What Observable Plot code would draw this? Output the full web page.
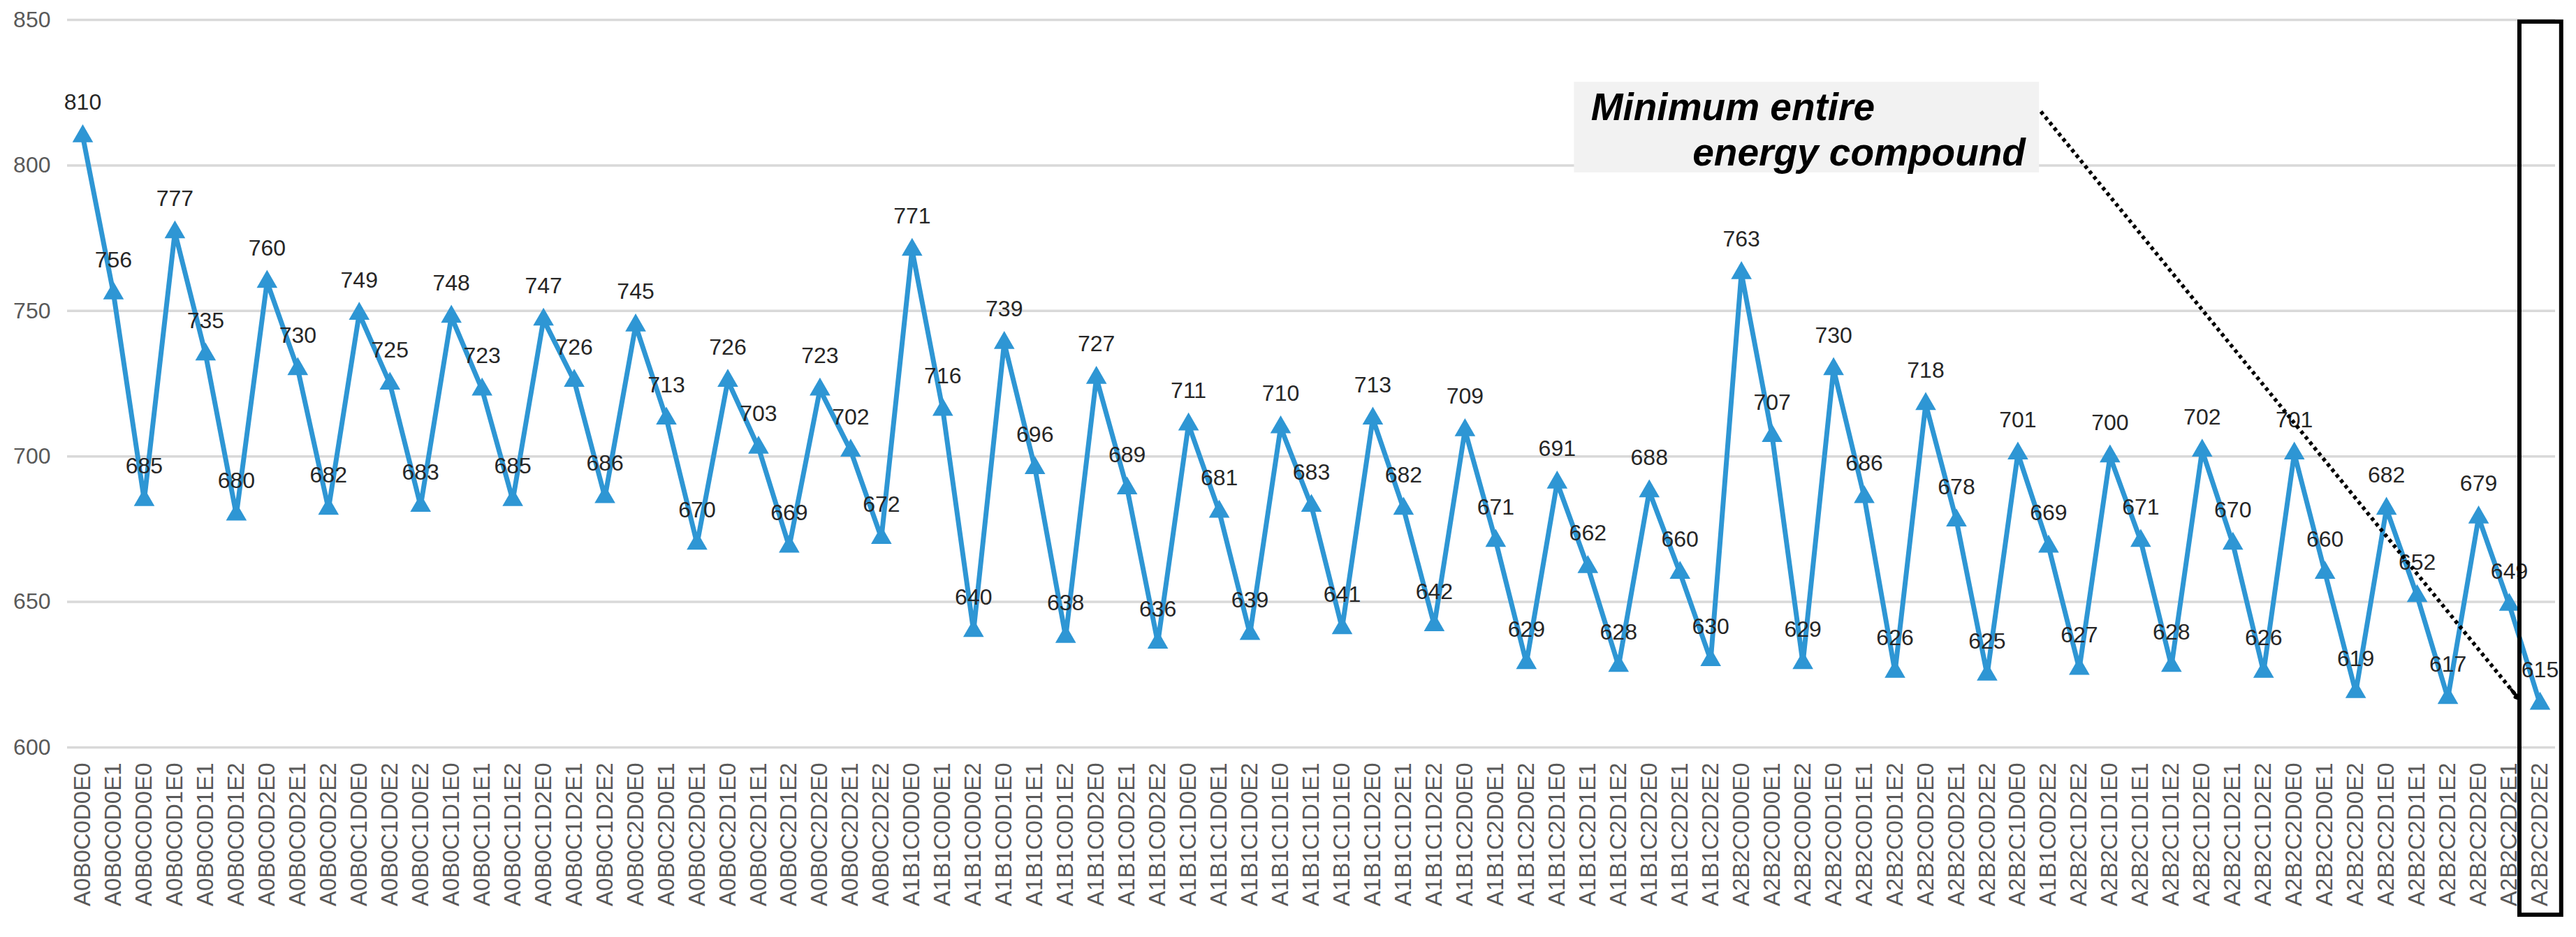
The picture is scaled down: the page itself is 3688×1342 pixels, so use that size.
<!DOCTYPE html>
<html>
<head>
<meta charset="utf-8">
<script src="https://cdn.jsdelivr.net/npm/d3@7"></script>
<script src="https://cdn.jsdelivr.net/npm/@observablehq/plot@0.6"></script>
<style>
  html, body { margin: 0; padding: 0; background: #ffffff; }
  #chart svg { display: block; }
</style>
</head>
<body>
<div id="chart"></div>
<script>
// Category labels as printed on the x axis (including the original's repeated labels)
const categories = [
  "A0B0C0D0E0","A0B0C0D0E1","A0B0C0D0E0","A0B0C0D1E0","A0B0C0D1E1","A0B0C0D1E2","A0B0C0D2E0","A0B0C0D2E1","A0B0C0D2E2",
  "A0B0C1D0E0","A0B0C1D0E2","A0B0C1D0E2","A0B0C1D1E0","A0B0C1D1E1","A0B0C1D1E2","A0B0C1D2E0","A0B0C1D2E1","A0B0C1D2E2",
  "A0B0C2D0E0","A0B0C2D0E1","A0B0C2D0E1","A0B0C2D1E0","A0B0C2D1E1","A0B0C2D1E2","A0B0C2D2E0","A0B0C2D2E1","A0B0C2D2E2",
  "A1B1C0D0E0","A1B1C0D0E1","A1B1C0D0E2","A1B1C0D1E0","A1B1C0D1E1","A1B1C0D1E2","A1B1C0D2E0","A1B1C0D2E1","A1B1C0D2E2",
  "A1B1C1D0E0","A1B1C1D0E1","A1B1C1D0E2","A1B1C1D1E0","A1B1C1D1E1","A1B1C1D1E0","A1B1C1D2E0","A1B1C1D2E1","A1B1C1D2E2",
  "A1B1C2D0E0","A1B1C2D0E1","A1B1C2D0E2","A1B1C2D1E0","A1B1C2D1E1","A1B1C2D1E2","A1B1C2D2E0","A1B1C2D2E1","A1B1C2D2E2",
  "A2B2C0D0E0","A2B2C0D0E1","A2B2C0D0E2","A2B2C0D1E0","A2B2C0D1E1","A2B2C0D1E2","A2B2C0D2E0","A2B2C0D2E1","A2B2C0D2E2",
  "A2B2C1D0E0","A1B1C0D2E2","A2B2C1D2E2","A2B2C1D1E0","A2B2C1D1E1","A2B2C1D1E2","A2B2C1D2E0","A2B2C1D2E1","A2B2C1D2E2",
  "A2B2C2D0E0","A2B2C2D0E1","A2B2C2D0E2","A2B2C2D1E0","A2B2C2D1E1","A2B2C2D1E2","A2B2C2D2E0","A2B2C2D2E1","A2B2C2D2E2"
];

// Energy values
const energies = [
  810,756,685,777,735,680,760,730,682,
  749,725,683,748,723,685,747,726,686,
  745,713,670,726,703,669,723,702,672,
  771,716,640,739,696,638,727,689,636,
  711,681,639,710,683,641,713,682,642,
  709,671,629,691,662,628,688,660,630,
  763,707,629,730,686,626,718,678,625,
  701,669,627,700,671,628,702,670,626,
  701,660,619,682,652,617,679,649,615
];

// Y axis ticks
const yTicks = [600, 650, 700, 750, 800, 850];

// Annotation text
const noteLines = ["Minimum entire", "energy compound"];

// Annotation placement, in data coordinates (x = category index, y = energy)
const noteBox = [{x1: 48.56, x2: 63.7, y1: 797.5, y2: 828.6}];
const noteLine1 = [{x: 49.1, y: 815.6, t: noteLines[0]}];
const noteLine2 = [{x: 63.25, y: 800.0, t: noteLines[1]}];
const pointer = {x1: 63.75, y1: 818.5, x2: 79.3, y2: 616.8};
const highlight = [{x1: 79.34, x2: 80.7, y1: 849.3, y2: 542.4}];

const data = energies.map((v, i) => ({i, v}));
const idx = d3.range(categories.length);

// short segment at the end of the pointer, for a solid arrow head
const f = 0.985;
const headSeg = [{
  x1: pointer.x1 + f * (pointer.x2 - pointer.x1),
  y1: pointer.y1 + f * (pointer.y2 - pointer.y1),
  x2: pointer.x2, y2: pointer.y2
}];

const blue = "#2E96D4";
const noteFont = {fontSize: 55, fontWeight: "bold", fontStyle: "italic", fill: "#000000", lineAnchor: "bottom"};

const chart = Plot.plot({
  width: 3688,
  height: 1342,
  marginLeft: 96,
  marginRight: 30,
  marginTop: 28,
  marginBottom: 272,
  style: {fontFamily: "'Liberation Sans', Arial, sans-serif", background: "#ffffff", overflow: "visible"},
  x: {type: "linear", domain: [-0.5, 80.5]},
  y: {domain: [600, 850]},
  marks: [
    Plot.ruleY(yTicks, {stroke: "#D9D9D9", strokeWidth: 3.5}),
    Plot.axisX({
      ticks: idx, tickFormat: i => categories[i], tickRotate: -90,
      tickSize: 0, tickPadding: 22, fontSize: 33, fill: "#595959", label: null
    }),
    Plot.axisY({
      ticks: yTicks, tickSize: 0, tickPadding: 24, fontSize: 32, fill: "#595959", label: null
    }),
    Plot.line(data, {x: "i", y: "v", stroke: blue, strokeWidth: 7, strokeLinejoin: "miter"}),
    Plot.dot(data, {x: "i", y: "v", symbol: "triangle", r: 11, fill: blue, stroke: null}),
    Plot.text(data, {x: "i", y: "v", text: d => String(d.v), dy: -48, fontSize: 32, fill: "#262626", lineAnchor: "middle"}),
    Plot.rect(noteBox, {x1: "x1", x2: "x2", y1: "y1", y2: "y2", fill: "#F2F2F2"}),
    Plot.text(noteLine1, {x: "x", y: "y", text: "t", textAnchor: "start", ...noteFont}),
    Plot.text(noteLine2, {x: "x", y: "y", text: "t", textAnchor: "end", ...noteFont}),
    Plot.link([pointer], {
      x1: "x1", y1: "y1", x2: "x2", y2: "y2",
      stroke: "#000000", strokeWidth: 5.5, strokeDasharray: "5,5", strokeLinecap: "butt"
    }),
    Plot.arrow(headSeg, {
      x1: "x1", y1: "y1", x2: "x2", y2: "y2",
      stroke: "#000000", strokeWidth: 4.5, headLength: 22, bend: 0
    }),
    Plot.rect(highlight, {
      x1: "x1", x2: "x2", y1: "y1", y2: "y2",
      fill: "none", stroke: "#000000", strokeWidth: 6
    })
  ]
});

document.getElementById("chart").appendChild(chart);
</script>
</body>
</html>
